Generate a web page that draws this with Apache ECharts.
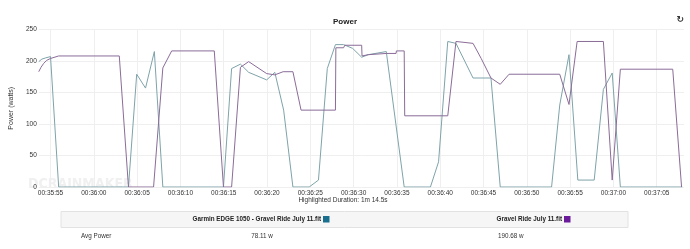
<!DOCTYPE html>
<html>
<head>
<meta charset="utf-8">
<script src="https://cdn.jsdelivr.net/npm/echarts@6/dist/echarts.min.js"></script>
<style>
  html, body { margin: 0; padding: 0; background: #fff; }
  #powerChart { width: 690px; height: 249px; }
</style>
</head>
<body>
<div id="powerChart"></div>
<script>
// seconds after 00:35:55
const edgeTimes = [-1.36, -1.0, -0.55, 0, 0.94, 9.0, 9.95, 10.97, 11.99, 12.97, 19.97, 20.91, 21.93, 22.88, 24.96, 25.9, 26.92, 27.99, 29.87, 30.94, 31.96, 32.9, 33.84, 34.89, 35.93, 36.68, 38.77, 40.84, 43.87, 44.81, 45.87, 46.82, 48.79, 50.86, 51.93, 57.86, 58.8, 59.87, 60.89, 62.78, 63.84, 64.86, 65.8, 72.95]
const edgeWatts = [199, 203, 205, 207, 0, 0, 179, 157, 215, 0, 0, 188, 195, 182, 170, 182, 122, 0, 0, 11, 188, 226, 226, 220, 206, 210, 215, 0, 0, 40, 231, 228, 173, 173, 0, 0, 130, 210, 11, 11, 155, 181, 0, 0]

const rideTimes = [-1.36, -1.1, -0.8, -0.45, 0, 0.94, 7.94, 9.0, 11.9, 12.97, 13.99, 18.91, 19.97, 20.91, 21.93, 22.88, 24.96, 25.9, 26.86, 27.99, 28.93, 32.9, 32.95, 33.84, 33.98, 35.93, 35.97, 36.68, 38.77, 39.9, 39.94, 40.84, 40.9, 45.87, 46.82, 48.79, 49.73, 50.86, 51.93, 52.95, 58.8, 59.87, 60.81, 63.84, 64.86, 65.8, 71.85, 72.87]
const rideWatts = [183, 190, 196, 201, 204, 208, 208, 0, 0, 189, 216, 216, 0, 0, 190, 199, 180, 178, 183, 183, 122, 122, 221, 221, 225, 225, 208, 210, 212, 212, 216, 216, 113, 113, 231, 228, 204, 173, 163, 179, 179, 131, 231, 231, 11, 187, 187, 0]

const xTickSeconds = [0, 5, 10, 15, 20, 25, 30, 35, 40, 45, 50, 55, 60, 65, 70]
const xTickLabels = ['00:35:55', '00:36:00', '00:36:05', '00:36:10', '00:36:15', '00:36:20', '00:36:25', '00:36:30', '00:36:35', '00:36:40', '00:36:45', '00:36:50', '00:36:55', '00:37:00', '00:37:05']

const edgeName = 'Garmin EDGE 1050 - Gravel Ride July 11.fit'
const rideName = 'Gravel Ride July 11.fit'
const edgeAvg = '78.11 w'
const rideAvg = '190.68 w'

const chartDom = document.getElementById('powerChart')
const myChart = echarts.init(chartDom)
const font = 'Liberation Sans, Arial, sans-serif'

const pairs = (ts, vs) => ts.map((t, i) => [t, vs[i]])

const option = {
  animation: false,
  backgroundColor: '#fff',
  textStyle: { fontFamily: font },
  title: {
    text: 'Power',
    left: 'center',
    top: 13,
    textStyle: { fontSize: 8, fontWeight: 'bold', color: '#222', fontFamily: font }
  },
  grid: { left: 28, right: 6, top: 29.5, bottom: 62 },
  xAxis: {
    type: 'value',
    min: -1.36,
    max: 73.15,
    axisLine: { show: false },
    axisTick: { show: false, customValues: xTickSeconds },
    axisLabel: {
      customValues: xTickSeconds,
      formatter: v => xTickLabels[xTickSeconds.indexOf(Math.round(v))],
      fontSize: 6.5,
      color: '#333',
      margin: 3
    },
    splitLine: { show: true, lineStyle: { color: '#efefef', width: 1 } }
  },
  yAxis: {
    type: 'value',
    min: 0,
    max: 250,
    interval: 50,
    name: 'Power (watts)',
    nameLocation: 'middle',
    nameRotate: 90,
    nameGap: 18,
    nameTextStyle: { fontSize: 7, color: '#333' },
    axisLine: { show: false },
    axisTick: { show: false },
    axisLabel: { fontSize: 6.5, color: '#333', margin: 2 },
    splitLine: { show: true, lineStyle: { color: '#efefef', width: 1 } }
  },
  graphic: [
    {
      type: 'text', left: 28, top: 177, z: -1, silent: true,
      style: { text: 'DCRAINMAKER', font: 'bold 14px "DejaVu Sans Condensed", sans-serif', fill: '#f0f0f0' }
    },
    {
      type: 'text', right: 6, top: 15,
      style: { text: '↻', font: 'bold 9px "DejaVu Sans", sans-serif', fill: '#333' }
    },
    {
      type: 'text', x: 343, y: 200,
      style: { text: 'Highlighted Duration: 1m 14.5s', font: '6.5px ' + font, fill: '#333', align: 'center', verticalAlign: 'middle' }
    },
    {
      type: 'rect', shape: { x: 61, y: 211.5, width: 567, height: 16 },
      style: { fill: '#f6f6f6', stroke: '#e2e2e2', lineWidth: 1 }
    },
    {
      type: 'text', x: 321, y: 219.5,
      style: { text: edgeName, font: 'bold 6.3px ' + font, fill: '#222', align: 'right', verticalAlign: 'middle' }
    },
    {
      type: 'rect', shape: { x: 323, y: 216, width: 6.5, height: 6.5 },
      style: { fill: '#1b6f8e' }
    },
    {
      type: 'text', x: 562, y: 219.5,
      style: { text: rideName, font: 'bold 6.3px ' + font, fill: '#222', align: 'right', verticalAlign: 'middle' }
    },
    {
      type: 'rect', shape: { x: 564, y: 216, width: 6.5, height: 6.5 },
      style: { fill: '#6a1b9a' }
    },
    {
      type: 'text', x: 81, y: 236.5,
      style: { text: 'Avg Power', font: '6.3px ' + font, fill: '#333', verticalAlign: 'middle' }
    },
    {
      type: 'text', x: 262, y: 236.5,
      style: { text: edgeAvg, font: '6.3px ' + font, fill: '#333', align: 'center', verticalAlign: 'middle' }
    },
    {
      type: 'text', x: 498, y: 236.5,
      style: { text: rideAvg, font: '6.3px ' + font, fill: '#333', verticalAlign: 'middle' }
    }
  ],
  series: [
    {
      name: edgeName,
      type: 'line',
      showSymbol: false,
      lineStyle: { width: 1, color: '#7ea3a9' },
      data: pairs(edgeTimes, edgeWatts)
    },
    {
      name: rideName,
      type: 'line',
      showSymbol: false,
      lineStyle: { width: 1, color: '#8a6c98' },
      data: pairs(rideTimes, rideWatts)
    }
  ]
}

option && myChart.setOption(option)
</script>
</body>
</html>
